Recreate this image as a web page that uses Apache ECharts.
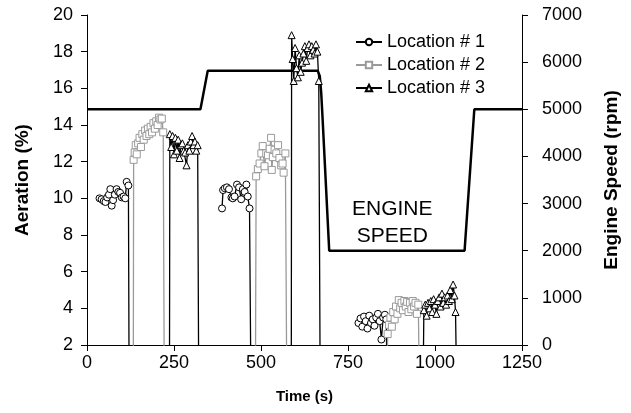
<!DOCTYPE html>
<html>
<head>
<meta charset="utf-8">
<script src="https://cdn.jsdelivr.net/npm/echarts@6/dist/echarts.min.js"></script>
<style>
  html, body { margin: 0; padding: 0; background: #fff; }
  #chart { width: 631px; height: 413px; }
</style>
</head>
<body>
<div id="chart"></div>
<script>
// Aeration samples per location: [time (s), aeration (%)].
// A value of 0 marks the signal dropping out; null breaks the trace.
const location1 = [
  [36,10.0],[42,9.95],[48,9.85],[53,9.8],[58,10.05],[63,10.2],[67,10.5],[71,9.6],[75,9.9],[80,10.2],
  [85,10.5],[90,10.35],[95,10.3],[100,10.05],[105,10.1],[110,10.0],[114,10.9],[119,10.7],[121,0],[122,null],
  [388,9.45],[391,10.45],[396,10.55],[402,10.6],[408,10.5],[415,10.05],[419,10.0],[424,10.1],[431,10.75],
  [437,10.6],[443,9.95],[448,10.5],[453,10.35],[458,10.75],[462,10.1],[467,9.45],[471,0],[472,null],
  [780,3.2],[786,3.45],[791,3.0],[796,3.55],[801,3.3],[806,2.9],[811,3.6],[816,3.2],[821,3.4],[826,3.05],
  [831,3.5],[836,3.7],[841,3.3],[846,2.3],[851,3.5],[856,3.65],[860,3.4],[862,0]
];
const location2 = [
  [133,0],[134,12.1],[137,12.5],[140,12.9],[143,12.4],[147,13.0],[151,13.3],[155,12.8],[159,13.5],[163,13.2],
  [167,13.7],[171,13.4],[175,13.8],[179,13.5],[183,13.9],[187,13.6],[191,14.1],[195,13.8],[199,14.2],[203,14.0],
  [207,14.4],[211,14.3],[215,14.35],[219,13.6],[222,0],[223,null],
  [484,0],[486,11.2],[491,11.6],[496,11.9],[501,12.45],[505,12.85],[510,11.75],[515,12.45],[520,12.35],[525,12.7],
  [529,13.3],[531,11.55],[534,12.25],[539,12.65],[544,12.45],[549,12.9],[553,12.2],[558,11.8],[562,11.9],[565,11.4],
  [570,12.45],[574,0],[575,null],
  [862,0],[864,2.6],[868,3.1],[872,3.5],[876,3.0],[880,3.8],[884,3.4],[888,4.1],[892,3.7],[896,4.45],[900,4.0],
  [904,4.3],[908,3.9],[912,4.4],[916,4.1],[920,4.35],[924,3.8],[928,4.3],[932,3.95],[936,4.4],[940,4.1],[944,4.3],
  [948,3.7],[952,4.2],[955,0]
];
const location3 = [
  [237,0],[238,13.5],[242,12.8],[246,13.4],[250,12.4],[254,13.3],[258,12.6],[262,13.2],[266,12.2],[270,12.9],
  [274,13.0],[278,12.6],[282,12.5],[286,11.8],[290,12.9],[294,12.6],[298,13.1],[302,13.4],[306,12.9],[310,13.1],
  [314,12.6],[318,12.9],[321,0],[322,null],
  [587,0],[588,18.9],[591,17.6],[594,16.4],[598,18.2],[602,17.1],[606,16.6],[610,17.8],[614,16.9],[618,17.4],
  [622,17.9],[626,18.3],[630,17.5],[634,18.2],[638,18.4],[642,17.8],[646,18.3],[650,18.1],[654,17.9],[658,18.4],
  [662,18.0],[666,16.4],[670,0],[671,null],
  [966,0],[968,3.9],[972,4.2],[976,3.6],[980,4.3],[984,4.0],[988,4.4],[992,3.8],[996,4.5],[1000,4.2],[1004,3.7],
  [1008,4.4],[1012,4.6],[1016,4.1],[1020,4.8],[1024,4.3],[1028,4.6],[1032,4.2],[1036,4.7],[1040,4.4],[1044,5.0],
  [1048,4.5],[1052,5.3],[1056,4.7],[1059,3.8],[1062,0]
];
// Engine speed profile: [time (s), rpm]
const engineSpeed = [
  [0,5000],[326,5000],[347,5820],[663,5820],[669,5700],[673,5350],[677,4800],[696,2000],
  [1085,2000],[1113,5000],[1250,5000]
];
const seriesNames = ['Location # 1', 'Location # 2', 'Location # 3'];

const FONT = '"Liberation Sans", Arial, sans-serif';
const LABEL_SIZE = 18;

// Drop-out points carry no marker
function toItems(rows) {
  return rows.map(function (r) {
    if (r[1] === null) return { value: [r[0], '-'], symbol: 'none' };
    if (r[1] === 0) return { value: r, symbol: 'none' };
    return { value: r };
  });
}

function locSeries(name, rows, color, symbol, size) {
  return {
    name: name,
    type: 'line',
    yAxisIndex: 0,
    data: toItems(rows),
    connectNulls: false,
    symbol: symbol,
    symbolSize: size,
    clip: true,
    lineStyle: { color: color, width: 1.3 },
    itemStyle: { color: '#fff', borderColor: color, borderWidth: 1 },
    emphasis: { disabled: true },
    animation: false
  };
}

const plainNumber = function (v) { return String(v); };

function valueAxisStyle(margin) {
  return {
    axisLine: { show: true, lineStyle: { color: '#000', width: 1 } },
    axisTick: { show: true, inside: false, length: 6, lineStyle: { color: '#000' } },
    axisLabel: { fontFamily: FONT, fontSize: LABEL_SIZE, color: '#000', margin: margin, formatter: plainNumber },
    splitLine: { show: false }
  };
}

const chart = echarts.init(document.getElementById('chart'), null, { renderer: 'canvas' });
chart.setOption({
  backgroundColor: '#fff',
  animation: false,
  grid: { left: 87, right: 109, top: 15, bottom: 68 },
  legend: {
    orient: 'vertical',
    left: 350, top: 28,
    itemGap: 5,
    itemWidth: 26, itemHeight: 8,
    textStyle: { fontFamily: FONT, fontSize: LABEL_SIZE, color: '#000' },
    data: seriesNames
  },
  xAxis: Object.assign({
    type: 'value', min: 0, max: 1250, interval: 250,
    name: 'Time (s)', nameLocation: 'middle', nameGap: 44,
    nameTextStyle: { fontFamily: FONT, fontSize: 15, fontWeight: 'bold', color: '#000' }
  }, valueAxisStyle(9)),
  yAxis: [
    Object.assign({
      type: 'value', min: 2, max: 20, interval: 2, position: 'left',
      name: 'Aeration (%)', nameLocation: 'middle', nameGap: 55, nameRotate: 90,
      nameTextStyle: { fontFamily: FONT, fontSize: 19, fontWeight: 'bold', color: '#000' }
    }, valueAxisStyle(14)),
    Object.assign({
      type: 'value', min: 0, max: 7000, interval: 1000, position: 'right',
      name: 'Engine Speed (rpm)', nameLocation: 'middle', nameGap: 80, nameRotate: 90,
      nameTextStyle: { fontFamily: FONT, fontSize: 19, fontWeight: 'bold', color: '#000' }
    }, valueAxisStyle(20))
  ],
  graphic: [
    {
      type: 'text', left: 352, top: 196,
      style: {
        text: 'ENGINE\nSPEED', fill: '#000', font: '21px ' + FONT,
        textAlign: 'center', lineHeight: 27
      }
    }
  ],
  series: [
    locSeries(seriesNames[0], location1, '#000', 'circle', 7),
    locSeries(seriesNames[1], location2, '#9a9a9a', 'rect', 7),
    locSeries(seriesNames[2], location3, '#000', 'triangle', 7),
    {
      name: 'Engine Speed',
      type: 'line',
      yAxisIndex: 1,
      data: engineSpeed,
      symbol: 'none',
      smooth: false,
      lineStyle: { color: '#000', width: 2.5 },
      emphasis: { disabled: true },
      animation: false
    }
  ]
});
</script>
</body>
</html>
